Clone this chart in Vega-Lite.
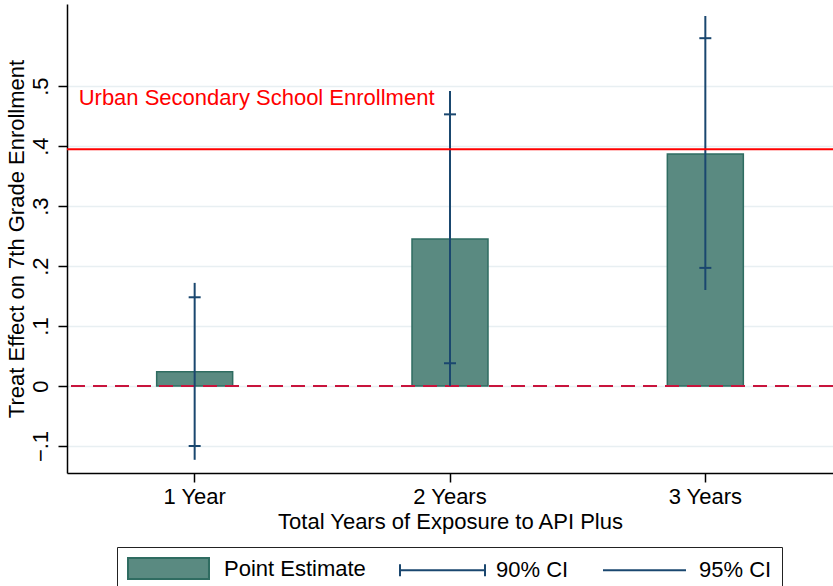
{
  "$schema": "https://vega.github.io/schema/vega-lite/v6.json",
  "width": 766,
  "height": 469,
  "autosize": "none",
  "padding": {"left": 67, "top": 4, "right": 0, "bottom": 113},
  "background": "white",
  "config": {
    "font": "Liberation Sans",
    "view": {"stroke": null},
    "axis": {
      "domainColor": "#000000",
      "domainWidth": 1.5,
      "tickColor": "#000000",
      "tickWidth": 1.5,
      "tickSize": 9,
      "labelColor": "#000000",
      "titleColor": "#000000",
      "labelFontSize": 22,
      "titleFontSize": 22,
      "titleFontWeight": "normal",
      "labelFont": "Liberation Sans",
      "titleFont": "Liberation Sans"
    }
  },
  "datasets": {
    "est": [
      {"exposure": "1 Year", "estimate": 0.024, "lo95": -0.123, "hi95": 0.172, "lo90": -0.1, "hi90": 0.148},
      {"exposure": "2 Years", "estimate": 0.245, "lo95": 0.0, "hi95": 0.492, "lo90": 0.038, "hi90": 0.453},
      {"exposure": "3 Years", "estimate": 0.387, "lo95": 0.16, "hi95": 0.617, "lo90": 0.197, "hi90": 0.58}
    ],
    "ref": [
      {"label": "Urban Secondary School Enrollment", "value": 0.395, "pos": "1 Year", "ty": 0.468}
    ],
    "leg": [
      {"series": "Point Estimate"},
      {"series": "90% CI"},
      {"series": "95% CI"}
    ]
  },
  "encoding": {
    "x": {
      "field": "exposure",
      "type": "nominal",
      "scale": {"type": "band", "domain": ["1 Year", "2 Years", "3 Years"], "paddingInner": 0, "paddingOuter": 0},
      "axis": {
        "title": "Total Years of Exposure to API Plus",
        "labelAngle": 0,
        "labelBaseline": "alphabetic",
        "labelPadding": 21,
        "titleBaseline": "alphabetic",
        "titleY": 55,
        "grid": false
      }
    }
  },
  "layer": [
    {
      "data": {"name": "est"},
      "mark": {"type": "bar", "width": 76, "fill": "#5a8a81", "stroke": "#2f6c61", "strokeWidth": 1.5},
      "encoding": {
        "y": {
          "field": "estimate",
          "type": "quantitative",
          "scale": {"domain": [-0.145, 0.637], "nice": false, "zero": false},
          "axis": {
            "title": "Treat Effect on 7th Grade Enrollment",
            "values": [-0.1, 0, 0.1, 0.2, 0.3, 0.4, 0.5],
            "labelExpr": "datum.value == 0 ? '0' : replace(format(datum.value, '.1f'), '0.', '.')",
            "labelAngle": 270,
            "labelAlign": "center",
            "labelBaseline": "alphabetic",
            "labelPadding": 11,
            "grid": true,
            "gridColor": "#e8eff2",
            "gridWidth": 1.5,
            "titleAngle": 270,
            "titleBaseline": "alphabetic",
            "titleAlign": "center",
            "titleX": -44,
            "titleY": 234.5
          }
        },
        "y2": {"datum": 0}
      }
    },
    {
      "data": {"name": "ref"},
      "mark": {"type": "rule", "stroke": "#c8143c", "strokeWidth": 2, "strokeDash": [14, 8]},
      "encoding": {"y": {"datum": 0}, "x": null}
    },
    {
      "data": {"name": "est"},
      "mark": {"type": "rule", "stroke": "#1a476f", "strokeWidth": 2},
      "encoding": {
        "y": {"field": "lo95", "type": "quantitative"},
        "y2": {"field": "hi95"}
      }
    },
    {
      "data": {"name": "est"},
      "mark": {"type": "tick", "color": "#1a476f", "size": 12, "thickness": 2, "orient": "horizontal", "opacity": 1},
      "encoding": {"y": {"field": "lo90", "type": "quantitative"}}
    },
    {
      "data": {"name": "est"},
      "mark": {"type": "tick", "color": "#1a476f", "size": 12, "thickness": 2, "orient": "horizontal", "opacity": 1},
      "encoding": {"y": {"field": "hi90", "type": "quantitative"}}
    },
    {
      "data": {"name": "ref"},
      "mark": {"type": "rule", "stroke": "#ff0000", "strokeWidth": 2},
      "encoding": {"y": {"field": "value", "type": "quantitative"}, "x": null}
    },
    {
      "data": {"name": "ref"},
      "mark": {"type": "text", "color": "#ff0000", "fontSize": 22, "align": "left", "baseline": "alphabetic", "dx": -116, "font": "Liberation Sans"},
      "encoding": {
        "x": {"field": "pos", "type": "nominal"},
        "y": {"field": "ty", "type": "quantitative"},
        "text": {"field": "label"}
      }
    },
    {
      "data": {"name": "leg"},
      "mark": {"type": "point", "opacity": 0, "filled": true, "fill": "#5a8a81"},
      "encoding": {
        "x": null,
        "shape": {
          "field": "series",
          "type": "nominal",
          "scale": {
            "domain": ["Point Estimate", "90% CI", "95% CI"],
            "range": ["M-1,-1H6.714V1H-1Z", "M-1,0H7.095M-1,-0.57V0.57M7.095,-0.57V0.57", "M-1,0H6.905"]
          },
          "legend": {
            "title": null,
            "orient": "none",
            "legendX": 50,
            "legendY": 543,
            "direction": "horizontal",
            "columns": 3,
            "padding": 10,
            "strokeColor": "#222222",
            "fillColor": "#ffffff",
            "symbolSize": 441,
            "symbolStrokeWidth": 2,
            "labelFontSize": 22,
            "labelFont": "Liberation Sans",
            "labelColor": "#000000",
            "labelOffset": 74,
            "columnPadding": 30
          }
        },
        "stroke": {
          "field": "series",
          "type": "nominal",
          "scale": {"domain": ["Point Estimate", "90% CI", "95% CI"], "range": ["#2f6c61", "#1a476f", "#1a476f"]}
        }
      }
    }
  ]
}
